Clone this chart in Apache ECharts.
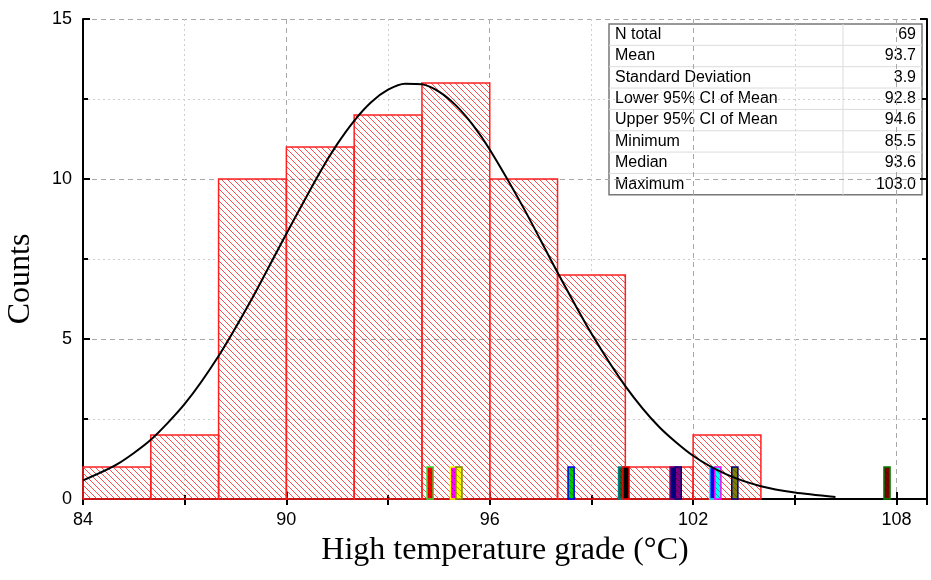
<!DOCTYPE html>
<html>
<head>
<meta charset="utf-8">
<script src="https://cdn.jsdelivr.net/npm/echarts@6/dist/echarts.min.js"></script>
<style>
  html, body { margin: 0; padding: 0; background: #fff; }
  #chart { width: 931px; height: 580px; }
</style>
</head>
<body>
<div id="chart"></div>
<script>
// histogram bins (edges + counts)
const binEdges = [84, 86, 88, 90, 92, 94, 96, 98, 100, 102, 104];
const binCounts = [1, 2, 10, 11, 12, 13, 10, 7, 1, 2];

// individual sample markers along the bottom
const pointValues = [94.24, 94.93, 95.09, 98.40, 99.89, 100.02, 101.41, 101.56, 102.58, 102.73, 103.23, 107.72];
const pointCounts = [1, 1, 1, 1, 1, 1, 1, 1, 1, 1, 1, 1];
const pointFills = ['#ff0000', '#ff00ff', '#ffff00', '#00cc00', '#006633', '#000000',
  '#000080', '#800080', '#0000ff', '#00ffff', '#808000', '#800000'];
const pointBorders = ['#33dd33', '#ffff00', '#808000', '#0000ff', '#008080', '#ff0000',
  '#800080', '#000080', '#00ffff', '#ff00ff', '#000080', '#008000'];

// fitted normal curve
const curveX = [84, 85, 86, 87, 88, 89, 90, 91, 91.5, 92, 92.5, 93, 93.5, 94, 94.5, 95, 95.5, 96, 97, 98, 99, 100, 101, 102, 103, 104, 105, 106.2];
const curveY = [0.58, 1.08, 1.85, 2.97, 4.47, 6.29, 8.29, 10.23, 11.09, 11.82, 12.40, 12.79, 12.98, 12.96, 12.73, 12.30, 11.69, 10.92, 9.09, 7.08, 5.17, 3.53, 2.25, 1.35, 0.76, 0.40, 0.20, 0.06];

// descriptive statistics table
const statLabels = ['N total', 'Mean', 'Standard Deviation', 'Lower 95% CI of Mean',
  'Upper 95% CI of Mean', 'Minimum', 'Median', 'Maximum'];
const statValues = ['69', '93.7', '3.9', '92.8', '94.6', '85.5', '93.6', '103.0'];

function makeHatch(color, size) {
  const c = document.createElement('canvas');
  c.width = size; c.height = size;
  const g = c.getContext('2d');
  g.strokeStyle = color;
  g.lineWidth = 1;
  g.beginPath();
  g.moveTo(0, 0); g.lineTo(size, size);
  g.moveTo(-1, size - 1); g.lineTo(1, size + 1);
  g.moveTo(size - 1, -1); g.lineTo(size + 1, 1);
  g.stroke();
  return c;
}
const redHatch = makeHatch('rgba(255,0,0,0.7)', 6);
const darkHatch = makeHatch('rgba(0,0,0,0.35)', 6);

const chart = echarts.init(document.getElementById('chart'));

const axisLineStyle = { color: '#000', width: 2 };
const xMin = 84, xMax = 108.9;

// table graphic
const tbl = { left: 609, top: 24, width: 313, rowH: 21.35, split: 234 };
const tableChildren = [];
statLabels.forEach((lab, i) => {
  const y = tbl.top + i * tbl.rowH;
  if (i > 0) {
    tableChildren.push({
      type: 'line',
      shape: { x1: tbl.left, y1: y, x2: tbl.left + tbl.width, y2: y },
      style: { stroke: '#dcdcdc', lineWidth: 1 }
    });
  }
  tableChildren.push({
    type: 'text',
    style: {
      text: lab, x: tbl.left + 6, y: y + tbl.rowH / 2,
      font: '16px "Liberation Sans", Arial, sans-serif',
      fill: '#000', align: 'left', verticalAlign: 'middle'
    }
  });
  tableChildren.push({
    type: 'text',
    style: {
      text: statValues[i], x: tbl.left + tbl.width - 6, y: y + tbl.rowH / 2,
      font: '16px "Liberation Sans", Arial, sans-serif',
      fill: '#000', align: 'right', verticalAlign: 'middle'
    }
  });
});
tableChildren.unshift({
  type: 'line',
  shape: { x1: tbl.left + tbl.split, y1: tbl.top, x2: tbl.left + tbl.split, y2: tbl.top + tbl.rowH * 8 },
  style: { stroke: '#dcdcdc', lineWidth: 1 }
});
tableChildren.unshift({
  type: 'rect',
  shape: { x: tbl.left, y: tbl.top, width: tbl.width, height: tbl.rowH * 8 },
  style: { fill: '#fff', stroke: '#777', lineWidth: 1.5 }
});

const option = {
  animation: false,
  backgroundColor: '#fff',
  grid: { left: 83, right: 4, top: 19, bottom: 81 },
  xAxis: [
    {
      type: 'value', min: xMin, max: xMax, interval: 6, position: 'bottom',
      axisLine: { lineStyle: axisLineStyle },
      axisTick: { inside: true, length: 7, lineStyle: { color: '#000', width: 2 } },
      minorTick: { show: true, splitNumber: 2, length: 4, lineStyle: { color: '#000', width: 2 } },
      axisLabel: {
        color: '#000', fontSize: 18, fontFamily: '"Liberation Sans", Arial, sans-serif', margin: 12,
        formatter: v => (Math.abs(v % 6) < 1e-6 ? String(v) : '')
      },
      splitLine: { show: true, lineStyle: { type: [5, 4], color: '#a8a8a8', width: 1 } }
    },
    {
      type: 'value', min: xMin, max: xMax, interval: 3, position: 'top',
      axisLine: { lineStyle: axisLineStyle },
      axisTick: { inside: true, length: 6, lineStyle: { color: '#000', width: 2 } },
      axisLabel: { show: false },
      splitLine: { show: true, lineStyle: { type: [2, 3], color: ['rgba(0,0,0,0)', '#cfcfcf'], width: 1 } }
    }
  ],
  yAxis: [
    {
      type: 'value', min: 0, max: 15, interval: 5, position: 'left',
      axisLine: { show: true, lineStyle: axisLineStyle },
      axisTick: { show: true, inside: true, length: 7, lineStyle: { color: '#000', width: 2 } },
      minorTick: { show: true, splitNumber: 2, length: 5, lineStyle: { color: '#000', width: 2 } },
      axisLabel: { color: '#000', fontSize: 18, fontFamily: '"Liberation Sans", Arial, sans-serif', margin: 11 },
      splitLine: { show: true, lineStyle: { type: [5, 4], color: '#a8a8a8', width: 1 } },
      minorSplitLine: { show: true, lineStyle: { type: [2, 3], color: '#cfcfcf', width: 1 } }
    },
    {
      type: 'value', min: 0, max: 15, interval: 5, position: 'right',
      axisLine: { show: true, lineStyle: axisLineStyle },
      axisTick: { show: true, inside: true, length: 7, lineStyle: { color: '#000', width: 2 } },
      minorTick: { show: true, splitNumber: 2, length: 5, lineStyle: { color: '#000', width: 2 } },
      axisLabel: { show: false },
      splitLine: { show: false }
    }
  ],
  series: [
    {
      type: 'custom',
      xAxisIndex: 0, yAxisIndex: 0,
      z: 2,
      data: binCounts.map((c, i) => [binEdges[i], binEdges[i + 1], c]),
      encode: { x: [0, 1], y: 2 },
      renderItem: (params, api) => {
        const p0 = api.coord([api.value(0), api.value(2)]);
        const p1 = api.coord([api.value(1), 0]);
        return {
          type: 'rect',
          shape: { x: p0[0], y: p0[1], width: p1[0] - p0[0], height: p1[1] - p0[1] },
          style: { fill: { image: redHatch, repeat: 'repeat' }, stroke: '#ff2020', lineWidth: 1.5 }
        };
      }
    },
    {
      type: 'custom',
      xAxisIndex: 0, yAxisIndex: 0,
      z: 3,
      data: pointValues.map((v, i) => [v, pointCounts[i], i]),
      encode: { x: 0, y: 1 },
      renderItem: (params, api) => {
        const half = 0.09;
        const v = api.value(0);
        const idx = api.value(2);
        const p0 = api.coord([v - half, api.value(1)]);
        const p1 = api.coord([v + half, 0]);
        const shape = { x: p0[0], y: p0[1], width: p1[0] - p0[0], height: p1[1] - p0[1] };
        return {
          type: 'group',
          children: [
            { type: 'rect', shape: shape, style: { fill: pointFills[idx] } },
            { type: 'rect', shape: shape, style: { fill: { image: darkHatch, repeat: 'repeat' }, stroke: pointBorders[idx], lineWidth: 1.5 } }
          ]
        };
      }
    },
    {
      type: 'line',
      xAxisIndex: 0, yAxisIndex: 0,
      z: 4,
      smooth: 0.25,
      showSymbol: false,
      data: curveX.map((x, i) => [x, curveY[i]]),
      lineStyle: { color: '#000', width: 2 }
    }
  ],
  graphic: [
    { type: 'group', children: tableChildren, z: 100 },
    {
      type: 'text', x: 21, y: 279, rotation: Math.PI / 2,
      style: {
        text: 'Counts', font: '32px "Liberation Serif", "Times New Roman", serif',
        fill: '#000', align: 'center', verticalAlign: 'middle'
      }
    },
    {
      type: 'text', x: 505, y: 551,
      style: {
        text: 'High temperature grade (°C)', font: '32px "Liberation Serif", "Times New Roman", serif',
        fill: '#000', align: 'center', verticalAlign: 'middle'
      }
    }
  ]
};

chart.setOption(option);
</script>
</body>
</html>
